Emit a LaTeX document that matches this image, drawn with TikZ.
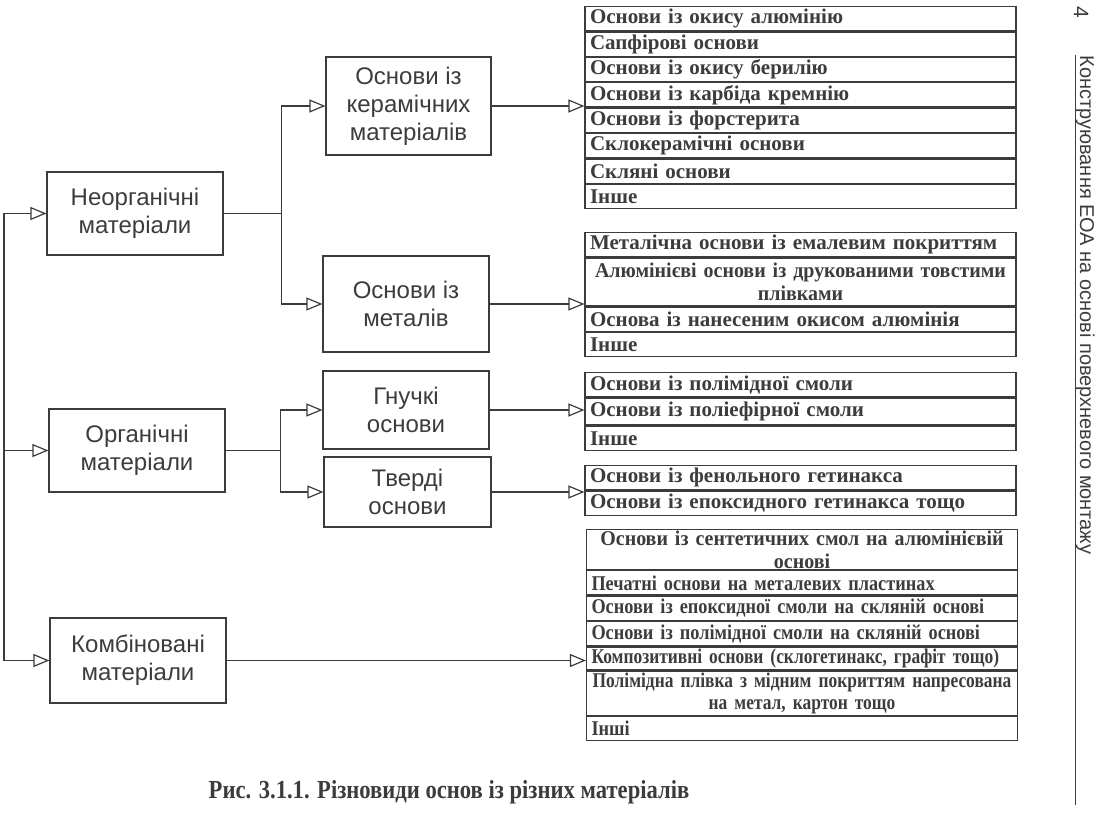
\documentclass[tikz,border=0pt]{standalone}
\usepackage{fontspec}
\setmainfont{Liberation Serif}
\newfontfamily\sansfont{Liberation Sans}
\newfontfamily\midfont[FakeStretch=0.95]{Liberation Serif}
\newfontfamily\narrowfont[FakeStretch=0.87]{Liberation Serif}
\newfontfamily\tightfont[FakeStretch=0.83]{Liberation Serif}
\newfontfamily\capfont[FakeStretch=0.87]{Liberation Serif}
\usetikzlibrary{arrows.meta,positioning}
\definecolor{ink}{HTML}{3C3C3C}

\tikzset{
    matbox/.style = {draw = ink, text = ink, align = center, inner sep = 0pt,
        font = \sansfont\fontsize{12}{14}\selectfont},
    itemrow/.style = {draw = ink, text = ink, align = left,
        text width = 210.5pt, minimum height = 12.1pt,
        inner xsep = 2.5pt, inner ysep = 0pt,
        font = \bfseries\fontsize{10.5}{12}\selectfont},
    midrow/.style = {font = \midfont\bfseries\fontsize{10.5}{11.5}\selectfont},
    narrowrow/.style = {font = \narrowfont\bfseries\fontsize{10.5}{11}\selectfont},
    tightrow/.style = {font = \tightfont\bfseries\fontsize{10.5}{11}\selectfont},
    tworow/.style = {align = center},
    link/.style = {draw = ink, -{Triangle[open, length = 8pt, width = 6.5pt]}}
}

\begin{document}
\begin{tikzpicture}[x = 0.5pt, y = -0.5pt, line width = 0.6pt]
\useasboundingbox (0,0) rectangle (1095,833);

% group boxes
\node[matbox, minimum width = 88pt, minimum height = 41.5pt] (neorg) at (135,213.5) {Неорганічні\\матеріали};
\node[matbox, minimum width = 88pt, minimum height = 41.5pt] (org) at (137,450.5) {Органічні\\матеріали};
\node[matbox, minimum width = 88pt, minimum height = 42.5pt] (komb) at (138,660.5) {Комбіновані\\матеріали};

% subgroup boxes
\node[matbox, minimum width = 82.5pt, minimum height = 49pt] (keram) at (408.5,106) {Основи із\\керамічних\\матеріалів};
\node[matbox, minimum width = 83pt, minimum height = 48pt] (metal) at (406,304) {Основи із\\металів};
\node[matbox, minimum width = 83pt, minimum height = 39pt] (gnuch) at (406,410) {Гнучкі\\основи};
\node[matbox, minimum width = 83.5pt, minimum height = 35pt] (tverd) at (407.5,492) {Тверді\\основи};

% ceramic list
\node[itemrow, anchor = north] (k1) at (800.5,6) {Основи із окису алюмінію};
\node[itemrow, below = 0pt of k1] (k2) {Сапфірові основи};
\node[itemrow, below = 0pt of k2] (k3) {Основи із окису берилію};
\node[itemrow, below = 0pt of k3] (k4) {Основи із карбіда кремнію};
\node[itemrow, below = 0pt of k4] (k5) {Основи із форстерита};
\node[itemrow, below = 0pt of k5] (k6) {Склокерамічні основи};
\node[itemrow, below = 0pt of k6] (k7) {Скляні основи};
\node[itemrow, below = 0pt of k7] (k8) {Інше};

% metal list
\node[itemrow, anchor = north] (m1) at (800.5,232) {Металічна основи із емалевим покриттям};
\node[itemrow, midrow, tworow, minimum height = 24pt, below = 0pt of m1] (m2) {Алюмінієві основи із друкованими товстими\\плівками};
\node[itemrow, below = 0pt of m2] (m3) {Основа із нанесеним окисом алюмінія};
\node[itemrow, below = 0pt of m3] (m4) {Інше};

% flexible list
\node[itemrow, anchor = north] (g1) at (800.5,372) {Основи із полімідної смоли};
\node[itemrow, minimum height = 13.5pt, below = 0pt of g1] (g2) {Основи із поліефірної смоли};
\node[itemrow, below = 0pt of g2] (g3) {Інше};

% rigid list
\node[itemrow, anchor = north] (t1) at (800.5,465) {Основи із фенольного гетинакса};
\node[itemrow, below = 0pt of t1] (t2) {Основи із епоксидного гетинакса тощо};

% combined list
\node[itemrow, midrow, tworow, minimum height = 20pt, anchor = north] (c1) at (802,529) {Основи із сентетичних смол на алюмінієвій\\основі};
\node[itemrow, narrowrow, below = 0pt of c1] (c2) {Печатні основи на металевих пластинах};
\node[itemrow, narrowrow, below = 0pt of c2] (c3) {Основи із епоксидної смоли на скляній основі};
\node[itemrow, narrowrow, below = 0pt of c3] (c4) {Основи із полімідної смоли на скляній основі};
\node[itemrow, tightrow, minimum height = 11.5pt, below = 0pt of c4] (c5) {Композитивні основи (склогетинакс, графіт тощо)};
\node[itemrow, tightrow, tworow, minimum height = 22pt, below = 0pt of c5] (c6) {Полімідна плівка з мідним покриттям напресована\\на метал, картон тощо};
\node[itemrow, narrowrow, below = 0pt of c6] (c7) {Інші};

% trunk and forks
\coordinate (trunk) at (4,213.5);
\draw[link] (trunk) -- (neorg.west);
\draw[link] (trunk |- org.west) -- (org.west);
\draw[link] (trunk) |- (komb.west);

\draw[ink] (neorg.east) -- ++(58,0) coordinate (fork1);
\draw[link] (fork1) |- (keram.west);
\draw[link] (fork1) |- (metal.west);

\draw[ink] (org.east) -- ++(55,0) coordinate (fork2);
\draw[link] (fork2) |- (gnuch.west);
\draw[link] (fork2) |- (tverd.west);

% to the lists
\draw[link] (keram.east) -- (keram.east -| k1.west);
\draw[link] (metal.east) -- (metal.east -| m1.west);
\draw[link] (gnuch.east) -- (gnuch.east -| g1.west);
\draw[link] (tverd.east) -- (tverd.east -| t1.west);
\draw[link] (komb.east) -- (komb.east -| c1.west);

% caption and running header
\node[text = ink, font = \capfont\bfseries\fontsize{13}{15}\selectfont] (caption) at (449,792) {Рис. 3.1.1. Різновиди основ із різних матеріалів};
\node[rotate = -90, text = ink, inner sep = 0pt, font = \sansfont\fontsize{10.5}{12}\selectfont] (pagenum) at (1081,12) {4};
\node[rotate = -90, text = ink, inner sep = 0pt, anchor = base west, font = \sansfont\fontsize{10}{12}\selectfont] (header) at (1080,55) {Конструювання ЕОА на основі поверхневого монтажу};
\draw[ink] (header.south west) -- ++(0,750);
\end{tikzpicture}
\end{document}
